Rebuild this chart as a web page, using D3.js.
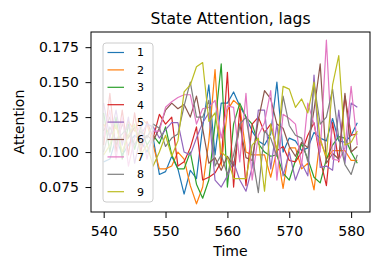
<!DOCTYPE html>
<html>
<head>
<meta charset="utf-8">
<script src="https://cdn.jsdelivr.net/npm/d3@7.9.0/dist/d3.min.js"></script>
<style>
  html, body { margin: 0; padding: 0; background: #fff; }
  svg { display: block; font-family: "DejaVu Sans", sans-serif; }
</style>
</head>
<body>
<svg id="chart" width="382" height="270"></svg>
<script>
// time steps shown on the x axis
const times = d3.range(540, 582);

// attention per lag (540..581)
const lag1 = [0.093, 0.095, 0.110, 0.098, 0.105, 0.112, 0.108, 0.100, 0.110, 0.084, 0.086, 0.097, 0.088, 0.070, 0.087, 0.081, 0.118, 0.148, 0.098, 0.135, 0.135, 0.143, 0.133, 0.125, 0.115, 0.108, 0.105, 0.113, 0.150, 0.100, 0.110, 0.108, 0.101, 0.103, 0.114, 0.110, 0.108, 0.124, 0.108, 0.107, 0.112, 0.121];
const lag2 = [0.120, 0.112, 0.118, 0.108, 0.122, 0.115, 0.125, 0.120, 0.105, 0.088, 0.088, 0.090, 0.100, 0.095, 0.076, 0.063, 0.075, 0.108, 0.159, 0.090, 0.130, 0.137, 0.133, 0.100, 0.098, 0.098, 0.098, 0.082, 0.101, 0.074, 0.103, 0.103, 0.088, 0.092, 0.073, 0.110, 0.095, 0.101, 0.101, 0.101, 0.094, 0.094];
const lag3 = [0.128, 0.100, 0.125, 0.095, 0.120, 0.102, 0.118, 0.105, 0.112, 0.106, 0.118, 0.098, 0.088, 0.088, 0.100, 0.077, 0.067, 0.080, 0.120, 0.163, 0.075, 0.120, 0.135, 0.125, 0.120, 0.106, 0.100, 0.097, 0.098, 0.085, 0.080, 0.094, 0.106, 0.095, 0.082, 0.078, 0.095, 0.105, 0.111, 0.110, 0.100, 0.092];
const lag4 = [0.105, 0.142, 0.100, 0.130, 0.098, 0.128, 0.100, 0.122, 0.110, 0.127, 0.120, 0.125, 0.090, 0.093, 0.103, 0.118, 0.080, 0.082, 0.085, 0.093, 0.157, 0.075, 0.131, 0.076, 0.120, 0.125, 0.114, 0.120, 0.101, 0.104, 0.094, 0.093, 0.100, 0.112, 0.121, 0.095, 0.076, 0.121, 0.093, 0.140, 0.112, 0.113];
const lag5 = [0.135, 0.110, 0.130, 0.105, 0.125, 0.092, 0.112, 0.120, 0.118, 0.110, 0.116, 0.121, 0.121, 0.100, 0.098, 0.110, 0.121, 0.128, 0.080, 0.075, 0.083, 0.093, 0.080, 0.072, 0.089, 0.130, 0.130, 0.088, 0.120, 0.083, 0.100, 0.080, 0.092, 0.083, 0.155, 0.089, 0.090, 0.087, 0.130, 0.092, 0.135, 0.132];
const lag6 = [0.115, 0.125, 0.105, 0.120, 0.110, 0.118, 0.105, 0.112, 0.108, 0.117, 0.130, 0.135, 0.131, 0.134, 0.125, 0.140, 0.117, 0.092, 0.096, 0.087, 0.097, 0.090, 0.120, 0.096, 0.094, 0.123, 0.144, 0.138, 0.120, 0.117, 0.104, 0.097, 0.107, 0.103, 0.130, 0.163, 0.092, 0.099, 0.095, 0.142, 0.100, 0.104];
const lag7 = [0.110, 0.130, 0.095, 0.125, 0.090, 0.110, 0.120, 0.095, 0.115, 0.115, 0.132, 0.136, 0.139, 0.141, 0.141, 0.120, 0.131, 0.132, 0.137, 0.110, 0.133, 0.132, 0.093, 0.142, 0.080, 0.112, 0.121, 0.144, 0.080, 0.127, 0.124, 0.120, 0.090, 0.135, 0.120, 0.100, 0.180, 0.095, 0.094, 0.103, 0.147, 0.105];
const lag8 = [0.100, 0.118, 0.108, 0.113, 0.118, 0.105, 0.115, 0.110, 0.120, 0.117, 0.104, 0.110, 0.113, 0.133, 0.150, 0.125, 0.125, 0.137, 0.090, 0.098, 0.084, 0.098, 0.120, 0.125, 0.098, 0.071, 0.115, 0.110, 0.097, 0.140, 0.119, 0.112, 0.110, 0.093, 0.149, 0.120, 0.125, 0.145, 0.110, 0.091, 0.084, 0.098];
const lag9 = [0.098, 0.105, 0.120, 0.100, 0.112, 0.120, 0.098, 0.105, 0.090, 0.100, 0.112, 0.097, 0.108, 0.143, 0.148, 0.161, 0.164, 0.122, 0.128, 0.100, 0.096, 0.081, 0.081, 0.081, 0.105, 0.110, 0.072, 0.120, 0.101, 0.147, 0.145, 0.132, 0.138, 0.128, 0.150, 0.108, 0.097, 0.148, 0.169, 0.105, 0.107, 0.115];

const lagNames = ['1', '2', '3', '4', '5', '6', '7', '8', '9'];
const lagValues = [lag1, lag2, lag3, lag4, lag5, lag6, lag7, lag8, lag9];
const xTicks = [540, 550, 560, 570, 580];
const yTicks = [0.075, 0.100, 0.125, 0.150, 0.175];

const colors = d3.scaleOrdinal(lagNames, d3.schemeCategory10);

const width = 382;
const height = 270;
const margin = { top: 32, right: 12, bottom: 58, left: 91 };

const svg = d3.select('#chart');

// matplotlib-like 5% padding on both axes
function padded(extent) {
  const pad = (extent[1] - extent[0]) * 0.05;
  return [extent[0] - pad, extent[1] + pad];
}

const x = d3.scaleLinear()
  .domain(padded(d3.extent(times)))
  .range([margin.left, width - margin.right]);

const y = d3.scaleLinear()
  .domain(padded(d3.extent(lagValues.flat())))
  .range([height - margin.bottom, margin.top]);

const line = d3.line()
  .x((d, i) => x(times[i]))
  .y((d) => y(d));

svg.append('g')
  .attr('fill', 'none')
  .attr('stroke-width', 1.2)
  .attr('stroke-linejoin', 'round')
  .selectAll('path')
  .data(lagValues)
  .join('path')
  .attr('stroke', (_, i) => colors(lagNames[i]))
  .attr('d', line);

// axes
const xAxis = svg.append('g')
  .attr('transform', `translate(0,${height - margin.bottom})`)
  .call(d3.axisBottom(x).tickValues(xTicks).tickSizeInner(6).tickSizeOuter(0).tickPadding(8.5));

const yAxis = svg.append('g')
  .attr('transform', `translate(${margin.left},0)`)
  .call(d3.axisLeft(y).tickValues(yTicks).tickFormat(d3.format('.3f')).tickSizeInner(5.5).tickSizeOuter(0).tickPadding(6.5));

[xAxis, yAxis].forEach((axis) => {
  axis.select('.domain').remove();
  axis.selectAll('line').attr('stroke', '#000').attr('stroke-width', 1);
  axis.selectAll('text')
    .attr('fill', '#000')
    .style('font-family', '"DejaVu Sans", sans-serif')
    .style('font-size', '14px');
});

// frame
svg.append('rect')
  .attr('x', margin.left)
  .attr('y', margin.top)
  .attr('width', width - margin.left - margin.right)
  .attr('height', height - margin.top - margin.bottom)
  .attr('fill', 'none')
  .attr('stroke', '#000')
  .attr('stroke-width', 1);

// title and axis labels
svg.append('text')
  .attr('x', (margin.left + width - margin.right) / 2)
  .attr('y', 24)
  .attr('text-anchor', 'middle')
  .style('font-size', '15.6px')
  .text('State Attention, lags');

svg.append('text')
  .attr('x', (margin.left + width - margin.right) / 2)
  .attr('y', 255.5)
  .attr('text-anchor', 'middle')
  .style('font-size', '14px')
  .text('Time');

svg.append('text')
  .attr('transform', `translate(24,${(margin.top + height - margin.bottom) / 2}) rotate(-90)`)
  .attr('text-anchor', 'middle')
  .style('font-size', '14px')
  .text('Attention');

// legend
const legendX = 103;
const legendY = 43;
const rowHeight = 17.4;

const legend = svg.append('g');

legend.append('rect')
  .attr('x', legendX)
  .attr('y', legendY)
  .attr('width', 50)
  .attr('height', 159)
  .attr('rx', 3)
  .attr('fill', '#fff')
  .attr('fill-opacity', 0.8)
  .attr('stroke', '#cccccc')
  .attr('stroke-width', 1);

const items = legend.selectAll('g.item')
  .data(lagNames)
  .join('g')
  .attr('class', 'item')
  .attr('transform', (_, i) => `translate(${legendX},${legendY + 9.5 + i * rowHeight})`);

items.append('line')
  .attr('x1', 4.5)
  .attr('x2', 21)
  .attr('stroke', (d) => colors(d))
  .attr('stroke-width', 1.2);

items.append('text')
  .attr('x', 34)
  .attr('dy', '0.36em')
  .style('font-size', '11px')
  .text((d) => d);
</script>
</body>
</html>
